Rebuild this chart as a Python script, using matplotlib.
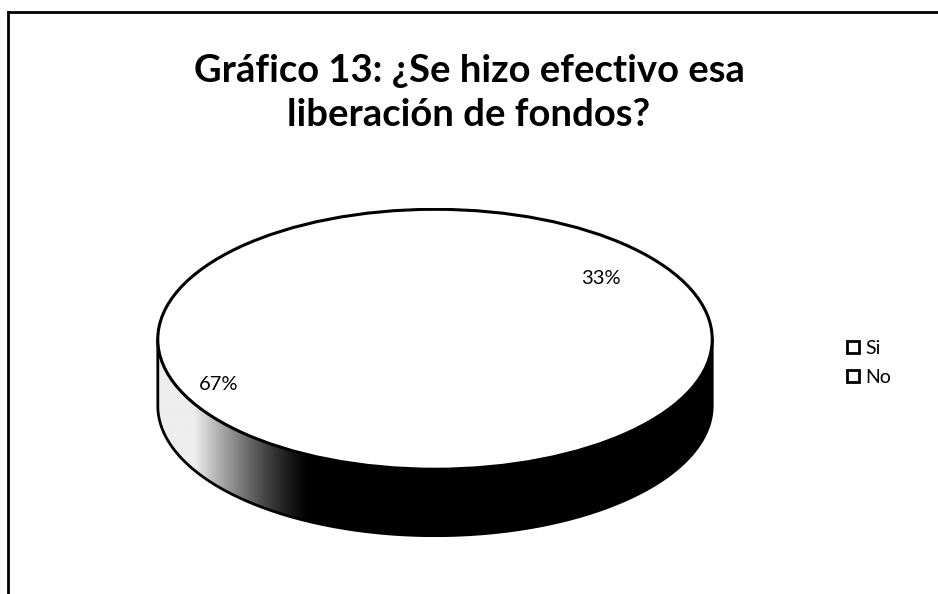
import numpy as np
import matplotlib
matplotlib.use("Agg")
import matplotlib.pyplot as plt
import matplotlib.transforms as mtransforms
from matplotlib.patches import Polygon, Ellipse
from matplotlib.lines import Line2D

# data
labels = ["Si", "No"]
values = [33, 67]
title = "Gráfico 13: ¿Se hizo efectivo esa\nliberación de fondos?"

plt.rcParams['font.family'] = ['Lato', 'DejaVu Sans']

W, H = 938, 594
fig = plt.figure(figsize=(W / 100, H / 100), dpi=100)

# pie top face: ellipse from x 155..715, y 208..470 (pixels), side depth 67 px
left, right, top, rim, bottom = 155, 715, 208, 470, 537
depth = (bottom - rim) / ((rim - top) / 2)
ax = fig.add_axes([left / W, (H - bottom) / H, (right - left) / W, (bottom - top) / H])

wedges, texts, autotexts = ax.pie(values, startangle=90, counterclock=False,
                                  colors=["white", "white"],
                                  wedgeprops=dict(edgecolor="none"),
                                  autopct="%1.0f%%", pctdistance=0.8,
                                  textprops=dict(fontsize=14.5))
ax.set_aspect("auto")
for w in wedges:
    w.set_zorder(3)
# nudge labels the way the original tool places them
label_tr = mtransforms.offset_copy(ax.transData, fig=fig, x=-25, y=8, units="dots")
for t in autotexts:
    t.set_zorder(5)
    t.set_transform(label_tr)

# side of the 3D pie
t = np.linspace(np.pi, 2 * np.pi, 300)
xs = np.cos(t)
ys = np.sin(t)
side = np.concatenate([np.column_stack([xs, ys]), np.column_stack([xs[::-1], ys[::-1] - depth])])
side_patch = Polygon(side, closed=True, facecolor="none", edgecolor="none")
ax.add_patch(side_patch)
gx = np.linspace(-1, 1, 400)
shade = np.clip((gx + 0.45) / -0.42, 0, 1) ** 1.3 * 0.93
grad = np.tile(shade, (10, 1))
im = ax.imshow(grad, cmap="gray", vmin=0, vmax=1, extent=[-1, 1, -1 - depth, 0],
               aspect="auto", zorder=1)
im.set_clip_path(side_patch)

# outlines
ax.add_patch(Ellipse((0, 0), 2, 2, facecolor="none", edgecolor="black", lw=2.2, zorder=4))
ax.plot(np.concatenate([[-1], xs, [1]]), np.concatenate([[0], ys - depth, [0]]),
        color="black", lw=2, zorder=2)
ax.set_xlim(-1.01, 1.01)
ax.set_ylim(-1 - depth - 0.01, 1.01)

# legend
handles = [Line2D([], [], marker="s", ls="none", markersize=8, markerfacecolor="white",
                  markeredgecolor="black", markeredgewidth=2) for _ in labels]
fig.legend(handles, labels, loc="center left", bbox_to_anchor=(830 / W, 1 - 363 / H),
           frameon=False, fontsize=14, handlelength=0.6, handletextpad=0.3,
           labelspacing=0.6)

fig.text(0.5, 1 - 93 / H, title, ha="center", va="center", fontsize=27.5,
         fontweight="bold", linespacing=1.35)

# border (top and left only)
fig.add_artist(Line2D([8 / W, 8 / W], [0, 1 - 12 / H], color="black", lw=2))
fig.add_artist(Line2D([8 / W, 1], [1 - 12 / H, 1 - 12 / H], color="black", lw=2))

fig.savefig("out.png", dpi=100)
